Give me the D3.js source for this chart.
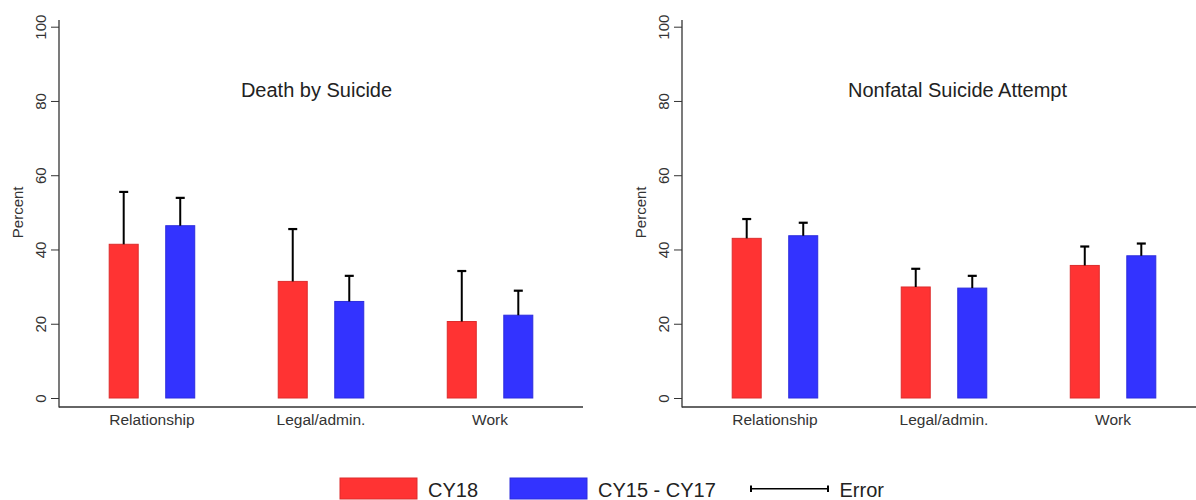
<!DOCTYPE html>
<html>
<head>
<meta charset="utf-8">
<script src="https://cdnjs.cloudflare.com/ajax/libs/d3/7.8.5/d3.min.js"></script>
<style>
  body { margin: 0; background: #fff; }
  text { font-family: "Liberation Sans", Arial, sans-serif; fill: #222; }
</style>
</head>
<body>
<svg id="chart" width="1196" height="500"></svg>
<script>
// data
var categories = ["Relationship", "Legal/admin.", "Work"];
var seriesNames = ["CY18", "CY15 - CY17"];
var seriesColors = ["#ff3333", "#3333ff"];
var yTicks = [0, 20, 40, 60, 80, 100];

var deathCY18 = [41.4, 31.4, 20.6];
var deathCY18Err = [14.1, 14.1, 13.6];
var deathCY1517 = [46.4, 26.0, 22.3];
var deathCY1517Err = [7.5, 6.9, 6.6];

var attemptCY18 = [43.0, 29.9, 35.7];
var attemptCY18Err = [5.2, 4.9, 5.1];
var attemptCY1517 = [43.7, 29.6, 38.3];
var attemptCY1517Err = [3.5, 3.3, 3.3];

var svg = d3.select("#chart");
svg.append("rect").attr("width", 1196).attr("height", 500).attr("fill", "#fff");

var y = d3.scaleLinear().domain([0, 100]).range([398, 26.7]);

function drawPanel(offset, title, titleX, vals, errs){
    var g = svg.append("g").attr("transform", "translate(" + offset + ",0)");

    var x0 = d3.scaleBand().domain(categories).range([59, 583])
        .paddingInner(0).paddingOuter(0.05);
    var bw = x0.bandwidth();
    var x1 = d3.scaleBand().domain(seriesNames)
        .range([0.247 * bw, 0.753 * bw]).paddingInner(0.487).paddingOuter(0);

    // y axis
    var yAxis = d3.axisLeft(y).tickValues(yTicks).tickSize(8).tickSizeOuter(0).tickFormat(d3.format("d"));
    var ya = g.append("g").attr("transform", "translate(59,0)").call(yAxis);
    ya.select(".domain").remove();
    ya.selectAll(".tick line").attr("stroke", "#333");
    ya.selectAll(".tick text")
        .attr("x", 0).attr("dy", 0)
        .attr("transform", "translate(-13.5,0) rotate(-90)")
        .attr("text-anchor", "middle")
        .style("font-size", "15px").style("fill", "#333");
    g.append("line").attr("x1", 59).attr("x2", 59).attr("y1", 20).attr("y2", 407.5)
        .attr("stroke", "#333").attr("stroke-width", 1.3);
    g.append("line").attr("x1", 59).attr("x2", 583 + (offset > 0 ? 40 : 0)).attr("y1", 407).attr("y2", 407)
        .attr("stroke", "#333").attr("stroke-width", 1.3);

    g.append("text").attr("transform", "translate(22.7," + y(50) + ") rotate(-90)")
        .attr("text-anchor", "middle").style("font-size", "15px").style("fill", "#333")
        .text("Percent");

    // category labels
    g.selectAll(".cat").data(categories).enter().append("text")
        .attr("class", "cat")
        .attr("x", function(d){ return x0(d) + bw / 2; })
        .attr("y", 425)
        .attr("text-anchor", "middle")
        .style("font-size", "15.5px").style("fill", "#333")
        .text(function(d){ return d; });

    // title
    g.append("text").attr("x", titleX).attr("y", 97).attr("text-anchor", "middle")
        .style("font-size", "20px").text(title);

    var rows = [];
    categories.forEach(function(c, i){
        seriesNames.forEach(function(s, j){
            rows.push({cat: c, series: s, color: seriesColors[j], v: vals[j][i], e: errs[j][i]});
        });
    });

    var grp = g.selectAll(".bar").data(rows).enter().append("g").attr("class", "bar");
    grp.append("rect")
        .attr("x", function(d){ return x0(d.cat) + x1(d.series); })
        .attr("y", function(d){ return y(d.v); })
        .attr("width", x1.bandwidth())
        .attr("height", function(d){ return y(0) - y(d.v); })
        .attr("fill", function(d){ return d.color; })
        .attr("stroke", function(d){ return d3.color(d.color).darker(0.4); })
        .attr("stroke-width", 1);

    grp.append("line")
        .attr("x1", function(d){ return x0(d.cat) + x1(d.series) + x1.bandwidth() / 2; })
        .attr("x2", function(d){ return x0(d.cat) + x1(d.series) + x1.bandwidth() / 2; })
        .attr("y1", function(d){ return y(d.v); })
        .attr("y2", function(d){ return y(d.v + d.e); })
        .attr("stroke", "#000").attr("stroke-width", 2);
    grp.append("line")
        .attr("x1", function(d){ return x0(d.cat) + x1(d.series) + x1.bandwidth() / 2 - 4.5; })
        .attr("x2", function(d){ return x0(d.cat) + x1(d.series) + x1.bandwidth() / 2 + 4.5; })
        .attr("y1", function(d){ return y(d.v + d.e); })
        .attr("y2", function(d){ return y(d.v + d.e); })
        .attr("stroke", "#000").attr("stroke-width", 2.2);
}

drawPanel(0, "Death by Suicide", 316.5,
    [deathCY18, deathCY1517], [deathCY18Err, deathCY1517Err]);
drawPanel(623, "Nonfatal Suicide Attempt", 334.5,
    [attemptCY18, attemptCY1517], [attemptCY18Err, attemptCY1517Err]);

// legend
var legend = svg.append("g");
var swatchX = [340, 510];
var labelX = [428, 598];
seriesNames.forEach(function(s, i){
    legend.append("rect").attr("x", swatchX[i]).attr("y", 478).attr("width", 77).attr("height", 21)
        .attr("fill", seriesColors[i]).attr("stroke", d3.color(seriesColors[i]).darker(0.4));
    legend.append("text").attr("x", labelX[i]).attr("y", 496.5).style("font-size", "20px").text(s);
});
legend.append("line").attr("x1", 751).attr("x2", 828).attr("y1", 488.7).attr("y2", 488.7)
    .attr("stroke", "#000").attr("stroke-width", 1.5);
legend.append("line").attr("x1", 751).attr("x2", 751).attr("y1", 485.5).attr("y2", 492)
    .attr("stroke", "#000").attr("stroke-width", 2);
legend.append("line").attr("x1", 828).attr("x2", 828).attr("y1", 485.5).attr("y2", 492)
    .attr("stroke", "#000").attr("stroke-width", 2);
legend.append("text").attr("x", 839.5).attr("y", 496.5).style("font-size", "20px").text("Error");
</script>
</body>
</html>
